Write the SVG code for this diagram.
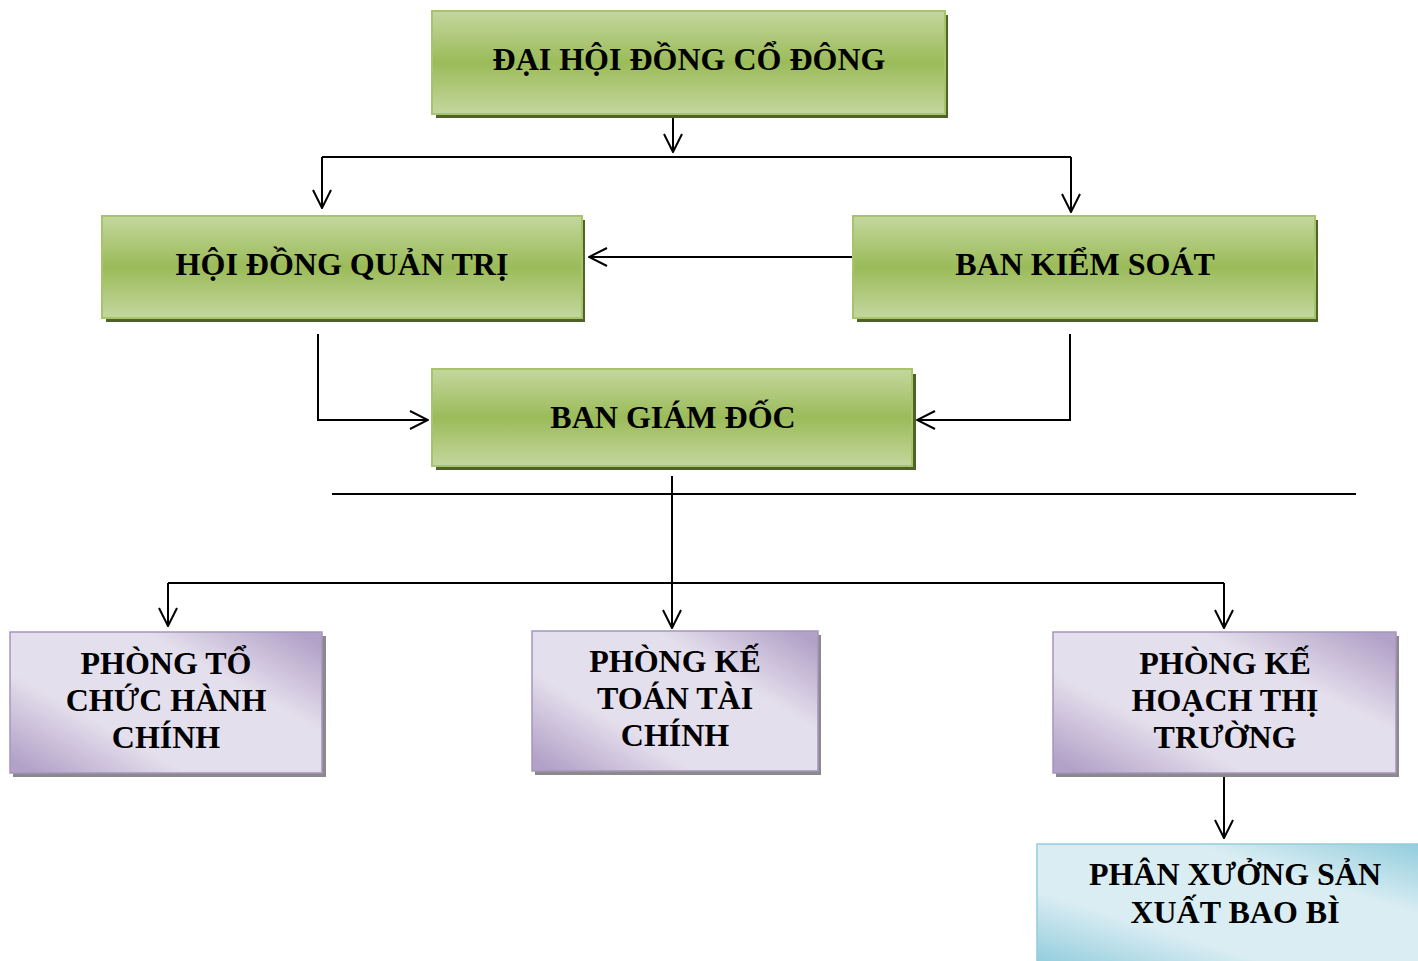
<svg xmlns="http://www.w3.org/2000/svg" width="1418" height="961" viewBox="0 0 1418 961">
<defs>
<linearGradient id="gGreen" x1="0" y1="0" x2="0" y2="1">
<stop offset="0" stop-color="#c4d79e"/>
<stop offset="0.5" stop-color="#9bbb59"/>
<stop offset="1" stop-color="#c4d79e"/>
</linearGradient>
<linearGradient id="gPurple" x1="0" y1="0.9" x2="1" y2="0.1">
<stop offset="0" stop-color="#b3a2c8"/>
<stop offset="0.3" stop-color="#e4dfec"/>
<stop offset="0.7" stop-color="#e4dfec"/>
<stop offset="1" stop-color="#b3a2c8"/>
</linearGradient>
<linearGradient id="gBlue" x1="0" y1="1" x2="1" y2="0">
<stop offset="0" stop-color="#93cddd"/>
<stop offset="0.3" stop-color="#daedf3"/>
<stop offset="0.7" stop-color="#daedf3"/>
<stop offset="1" stop-color="#93cddd"/>
</linearGradient>
<marker id="arr" viewBox="0 0 20 20" refX="19" refY="10" markerWidth="20" markerHeight="20" markerUnits="userSpaceOnUse" orient="auto">
<path d="M1,1 L19,10 L1,19" fill="none" stroke="#000" stroke-width="2"/>
</marker>
</defs>
<style>
.lbl{font-family:"Liberation Serif","Times New Roman",serif;font-weight:bold;font-size:32px;fill:#000;text-anchor:middle}
.green{fill:url(#gGreen);stroke:#a6c46b;stroke-width:2}
.gshadow{fill:#4f6228}
.purple{fill:url(#gPurple);stroke:#a695bf;stroke-width:1.5}
.pshadow{fill:#8a8a8a}
.blue{fill:url(#gBlue);stroke:#93cddd;stroke-width:1.5}
.ln{fill:none;stroke:#000;stroke-width:2}
</style>
<rect width="1418" height="961" fill="#fff"/>
<g id="connectors">
<path class="ln" d="M673,117 L673,152" marker-end="url(#arr)"/>
<path class="ln" d="M322,157 L1071,157"/>
<path class="ln" d="M322,157 L322,208" marker-end="url(#arr)"/>
<path class="ln" d="M1071,157 L1071,212" marker-end="url(#arr)"/>
<path class="ln" d="M853,257 L589,257" marker-end="url(#arr)"/>
<path class="ln" d="M318,334 L318,420 L428,420" marker-end="url(#arr)"/>
<path class="ln" d="M1070,334 L1070,420 L917,420" marker-end="url(#arr)"/>
<path class="ln" d="M332,494 L1356,494"/>
<path class="ln" d="M672,476 L672,628" marker-end="url(#arr)"/>
<path class="ln" d="M168,583 L1224,583"/>
<path class="ln" d="M168,583 L168,626" marker-end="url(#arr)"/>
<path class="ln" d="M1224,583 L1224,628" marker-end="url(#arr)"/>
<path class="ln" d="M1224,775 L1224,838" marker-end="url(#arr)"/>
</g>
<g id="dai-hoi">
<rect class="gshadow" x="436" y="15" width="512" height="103"/>
<rect class="green" x="432" y="11" width="513" height="103"/>
<text class="lbl" x="689" y="70">ĐẠI HỘI ĐỒNG CỔ ĐÔNG</text>
</g>
<g id="hdqt">
<rect class="gshadow" x="106" y="220" width="479" height="102"/>
<rect class="green" x="102" y="216" width="480" height="102"/>
<text class="lbl" x="342" y="275">HỘI ĐỒNG QUẢN TRỊ</text>
</g>
<g id="bks">
<rect class="gshadow" x="857" y="220" width="461" height="102"/>
<rect class="green" x="853" y="216" width="462" height="102"/>
<text class="lbl" x="1085" y="275">BAN KIỂM SOÁT</text>
</g>
<g id="bgd">
<rect class="gshadow" x="436" y="374" width="480" height="96"/>
<rect class="green" x="432" y="369" width="480" height="97"/>
<text class="lbl" x="673" y="428">BAN GIÁM ĐỐC</text>
</g>
<g id="phong-tc">
<rect class="pshadow" x="13" y="636" width="313" height="141"/>
<rect class="purple" x="10" y="632" width="312" height="141"/>
<text class="lbl" x="166" y="674">PHÒNG TỔ</text>
<text class="lbl" x="166" y="711">CHỨC HÀNH</text>
<text class="lbl" x="166" y="748">CHÍNH</text>
</g>
<g id="phong-kt">
<rect class="pshadow" x="535" y="635" width="286" height="140"/>
<rect class="purple" x="532" y="631" width="286" height="140"/>
<text class="lbl" x="675" y="672">PHÒNG KẾ</text>
<text class="lbl" x="675" y="709">TOÁN TÀI</text>
<text class="lbl" x="675" y="746">CHÍNH</text>
</g>
<g id="phong-kh">
<rect class="pshadow" x="1056" y="636" width="343" height="141"/>
<rect class="purple" x="1053" y="632" width="343" height="141"/>
<text class="lbl" x="1225" y="674">PHÒNG KẾ</text>
<text class="lbl" x="1225" y="711">HOẠCH THỊ</text>
<text class="lbl" x="1225" y="748">TRƯỜNG</text>
</g>
<g id="phan-xuong">
<rect class="blue" x="1037" y="844" width="382" height="118"/>
<text class="lbl" x="1235" y="885">PHÂN XƯỞNG SẢN</text>
<text class="lbl" x="1235" y="923">XUẤT BAO BÌ</text>
</g>
</svg>
